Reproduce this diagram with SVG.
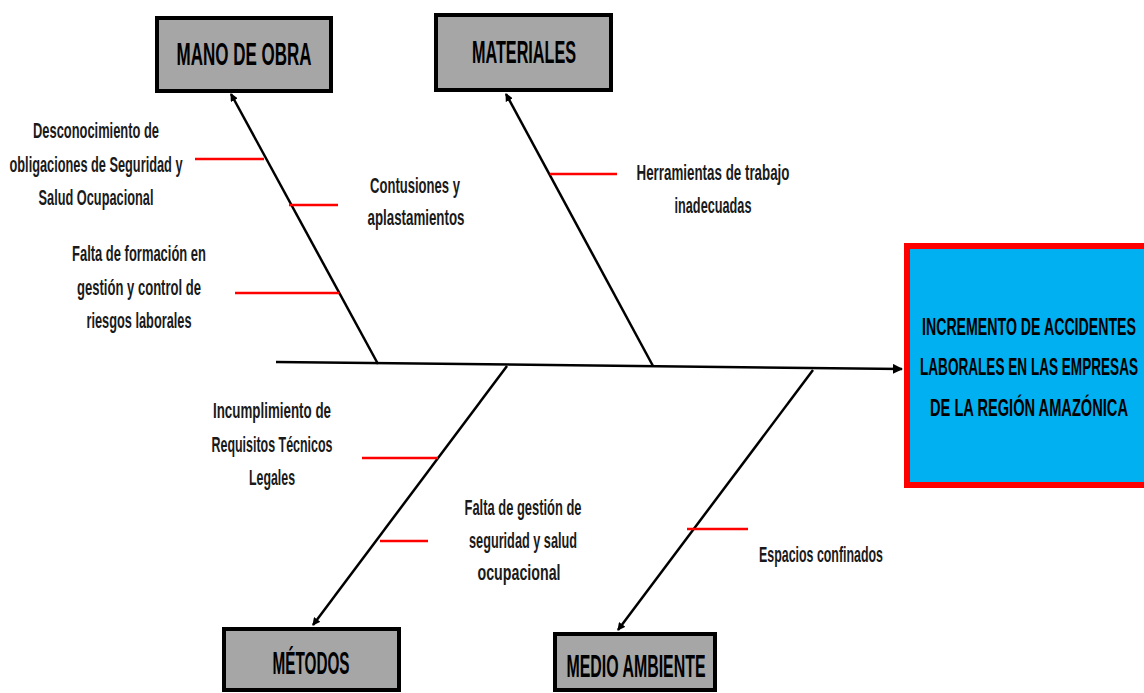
<svg xmlns="http://www.w3.org/2000/svg" width="1144" height="693" viewBox="0 0 1144 693">
<style>
.box{fill:#a6a6a6;stroke:#000;stroke-width:4}
.ttl{font-family:"Liberation Sans",Arial,sans-serif;font-size:31px;font-weight:bold;fill:#000;text-anchor:middle}
.lbl{font-family:"Liberation Sans",Arial,sans-serif;font-size:21.5px;font-weight:bold;fill:#1a1a1a;text-anchor:middle}
.main{font-family:"Liberation Sans",Arial,sans-serif;font-size:24.5px;font-weight:bold;fill:#000;text-anchor:middle}
.bone{stroke:#000;stroke-width:2.5;fill:none}
.red{stroke:#ff0000;stroke-width:2.5;fill:none}
</style>
<defs>
<marker id="ah" markerWidth="8" markerHeight="8" refX="7" refY="4" orient="auto" markerUnits="userSpaceOnUse" viewBox="0 0 8 8">
<path d="M0,0 L8,4 L0,8 Z" fill="#000"/>
</marker>
<marker id="ah2" markerWidth="10" markerHeight="10" refX="9" refY="5" orient="auto" markerUnits="userSpaceOnUse" viewBox="0 0 10 10">
<path d="M0,0 L10,5 L0,10 Z" fill="#000"/>
</marker>
</defs>
<rect width="1144" height="693" fill="#fff"/>
<g id="connectors">
<line class="bone" x1="276" y1="362" x2="902" y2="369" stroke-width="4" marker-end="url(#ah2)"/>
<line class="bone" x1="378" y1="364" x2="231" y2="94" marker-end="url(#ah)"/>
<line class="bone" x1="653" y1="366" x2="506" y2="94" marker-end="url(#ah)"/>
<line class="bone" x1="507" y1="366" x2="313" y2="625" marker-end="url(#ah)"/>
<line class="bone" x1="813" y1="370" x2="618" y2="630" marker-end="url(#ah)"/>
<line class="red" x1="195" y1="159" x2="264" y2="159"/>
<line class="red" x1="289" y1="205" x2="338" y2="205"/>
<line class="red" x1="235" y1="293" x2="339" y2="293"/>
<line class="red" x1="550" y1="174" x2="617" y2="174"/>
<line class="red" x1="362" y1="458" x2="438" y2="458"/>
<line class="red" x1="380" y1="541" x2="428" y2="541"/>
<line class="red" x1="687" y1="529" x2="748" y2="529"/>
</g>
<g id="mano-de-obra">
<rect class="box" x="157" y="18" width="174" height="73"/>
<text class="ttl" x="244" y="65" textLength="135" lengthAdjust="spacingAndGlyphs">MANO DE OBRA</text>
</g>
<g id="materiales">
<rect class="box" x="436" y="15" width="175" height="75"/>
<text class="ttl" x="524" y="63" textLength="104" lengthAdjust="spacingAndGlyphs">MATERIALES</text>
</g>
<g id="metodos">
<rect class="box" x="224" y="629" width="175" height="61"/>
<text class="ttl" x="311" y="674" textLength="77" lengthAdjust="spacingAndGlyphs">MÉTODOS</text>
</g>
<g id="medio-ambiente">
<rect class="box" x="555" y="634" width="160" height="56"/>
<text class="ttl" x="636" y="677" textLength="139" lengthAdjust="spacingAndGlyphs">MEDIO AMBIENTE</text>
</g>
<g id="efecto">
<rect x="907" y="246" width="245" height="239" fill="#00b0f0" stroke="#ff0000" stroke-width="6"/>
<text class="main" x="1029" y="335" textLength="214" lengthAdjust="spacingAndGlyphs">INCREMENTO DE ACCIDENTES</text>
<text class="main" x="1029" y="375" textLength="218" lengthAdjust="spacingAndGlyphs">LABORALES EN LAS EMPRESAS</text>
<text class="main" x="1029" y="416" textLength="198" lengthAdjust="spacingAndGlyphs">DE LA REGIÓN AMAZÓNICA</text>
</g>
<g id="causa-desconocimiento">
<text class="lbl" x="96" y="138" textLength="126" lengthAdjust="spacingAndGlyphs">Desconocimiento de</text>
<text class="lbl" x="96" y="172" textLength="173" lengthAdjust="spacingAndGlyphs">obligaciones de Seguridad y</text>
<text class="lbl" x="96" y="205" textLength="115" lengthAdjust="spacingAndGlyphs">Salud Ocupacional</text>
</g>
<g id="causa-contusiones">
<text class="lbl" x="415" y="193" textLength="90" lengthAdjust="spacingAndGlyphs">Contusiones y</text>
<text class="lbl" x="416" y="225" textLength="97" lengthAdjust="spacingAndGlyphs">aplastamientos</text>
</g>
<g id="causa-formacion">
<text class="lbl" x="139" y="261" textLength="134" lengthAdjust="spacingAndGlyphs">Falta de formación en</text>
<text class="lbl" x="139" y="295" textLength="124" lengthAdjust="spacingAndGlyphs">gestión y control de</text>
<text class="lbl" x="139" y="328" textLength="105" lengthAdjust="spacingAndGlyphs">riesgos laborales</text>
</g>
<g id="causa-herramientas">
<text class="lbl" x="713" y="180" textLength="153" lengthAdjust="spacingAndGlyphs">Herramientas de trabajo</text>
<text class="lbl" x="713" y="213" textLength="77" lengthAdjust="spacingAndGlyphs">inadecuadas</text>
</g>
<g id="causa-incumplimiento">
<text class="lbl" x="272" y="418" textLength="118" lengthAdjust="spacingAndGlyphs">Incumplimiento de</text>
<text class="lbl" x="272" y="452" textLength="121" lengthAdjust="spacingAndGlyphs">Requisitos Técnicos</text>
<text class="lbl" x="272" y="485" textLength="46" lengthAdjust="spacingAndGlyphs">Legales</text>
</g>
<g id="causa-gestion">
<text class="lbl" x="523" y="515" textLength="117" lengthAdjust="spacingAndGlyphs">Falta de gestión de</text>
<text class="lbl" x="523" y="548" textLength="108" lengthAdjust="spacingAndGlyphs">seguridad y salud</text>
<text class="lbl" x="519" y="580" textLength="83" lengthAdjust="spacingAndGlyphs">ocupacional</text>
</g>
<g id="causa-espacios">
<text class="lbl" x="821" y="562" textLength="124" lengthAdjust="spacingAndGlyphs">Espacios confinados</text>
</g>
</svg>
